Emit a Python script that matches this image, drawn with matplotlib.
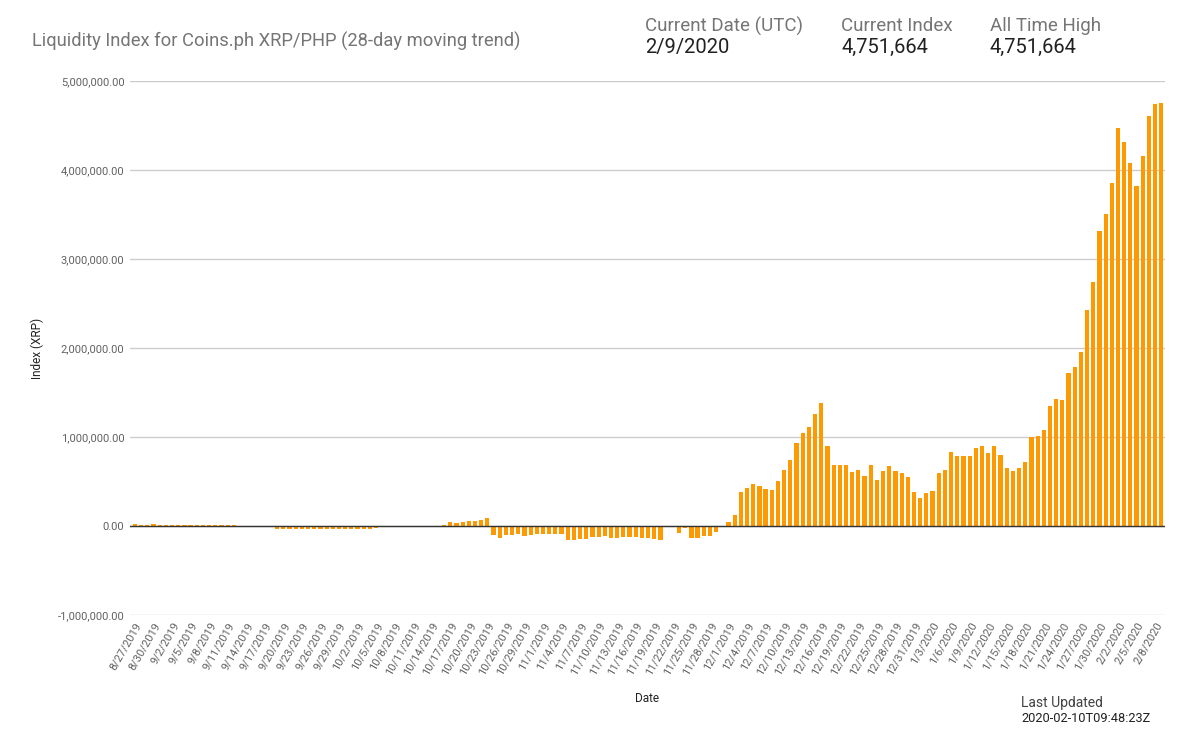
import pandas as pd
import matplotlib
matplotlib.use("Agg")
import matplotlib.pyplot as plt
from matplotlib.ticker import FuncFormatter

plt.rcParams['font.family'] = ['Roboto', 'DejaVu Sans']

# daily 28-day liquidity index, 8/27/2019 .. 2/9/2020 (values in XRP)
dates = pd.date_range("2019-08-27", "2020-02-09", freq="D")

index_k = [
    # 8/27 - 9/12
    20, 10, 10, 20, 10, 10, 10, 10, 10, 10, 10, 10, 10, 8, 8, 8, 8,
    # 9/13 - 9/22
    3, 2, 0, 0, -2, -8, -30, -30, -30, -30,
    # 9/23 - 10/8
    -35, -35, -30, -35, -30, -30, -30, -30, -30, -30, -30, -30, -25, -10, -15, -10,
    # 10/9 - 10/23
    -2, -2, -2, -2, -2, 3, 5, 12, 40, 30, 45, 60, 60, 70, 90,
    # 10/24 - 11/30
    -105, -140, -105, -105, -86, -115, -105, -95, -95, -85, -85, -85,
    -160, -160, -150, -150, -120, -120, -110, -140, -130, -125, -125, -125,
    -140, -130, -150, -160, -15, -15, -75, -28, -140, -140, -115, -115, -66, -12,
    # 12/1 - 12/31
    40, 120, 380, 430, 470, 450, 420, 410, 510, 630, 740, 930, 1040, 1110,
    1260, 1380, 900, 690, 680, 680, 610, 630, 560, 680, 520, 620, 670, 620,
    590, 550, 380,
    # 1/1 - 1/31
    320, 370, 390, 590, 630, 830, 790, 790, 790, 880, 900, 820, 900, 800,
    650, 620, 650, 720, 1000, 1010, 1080, 1350, 1430, 1420, 1720, 1790,
    1960, 2430, 2740, 3310, 3500,
    # 2/1 - 2/9
    3850, 4470, 4310, 4080, 3820, 4160, 4610, 4740, 4751.664,
]
values = [v * 1000 for v in index_k]

labels = [f"{d.month}/{d.day}/{d.year}" for d in dates]
tick_every = 3

title = "Liquidity Index for Coins.ph XRP/PHP (28-day moving trend)"
header_names = ["Current Date (UTC)", "Current Index", "All Time High"]
header_values = ["2/9/2020", "4,751,664", "4,751,664"]
header_x = [645, 841, 990]

W, H = 1199, 738
fig = plt.figure(figsize=(W / 100, H / 100), dpi=100)
ax = fig.add_axes([130 / W, 1 - 615 / H, (1165 - 130) / W, (615 - 81) / H])

x = list(range(len(values)))
ax.bar(x, values, width=0.68, color="#ff9900", zorder=3)

ax.set_ylim(-1000000, 5000000)
ax.set_xlim(-0.8, 166.6)
ax.set_yticks(range(-1000000, 5000001, 1000000))
ax.yaxis.set_major_formatter(FuncFormatter(lambda v, p: f"{v:,.2f}"))
ax.grid(axis="y", color="#cccccc", linewidth=1, zorder=0)
ax.axhline(0, color="#333333", linewidth=1, zorder=4)

ax.set_xticks(x[::tick_every])
ax.set_xticklabels(labels[::tick_every], rotation=60, ha="right",
                   rotation_mode="anchor", fontsize=8, color="#616161")
ax.tick_params(axis="y", labelsize=8, labelcolor="#616161", length=0, pad=4)
ax.tick_params(axis="x", length=0, pad=4)
for s in ax.spines.values():
    s.set_visible(False)

ax.set_xlabel("Date", fontsize=8.5, color="#222222", labelpad=11)
ax.set_ylabel("Index (XRP)", fontsize=8.5, color="#222222", labelpad=10)

fig.text(32 / W, 1 - 41 / H, title, fontsize=13.2, color="#757575", va="center")
for name, val, hx in zip(header_names, header_values, header_x):
    fig.text(hx / W, 1 - 26 / H, name, fontsize=13.5, color="#757575", va="center")
    fig.text(hx / W, 1 - 47 / H, val, fontsize=14.5, color="#212121", va="center")

fig.text(1021 / W, 1 - 703 / H, "Last Updated", fontsize=10, color="#424242", va="center")
fig.text(1021 / W, 1 - 719 / H, "2020-02-10T09:48:23Z", fontsize=9.2, color="#212121", va="center")

fig.savefig("out.png", dpi=100)
